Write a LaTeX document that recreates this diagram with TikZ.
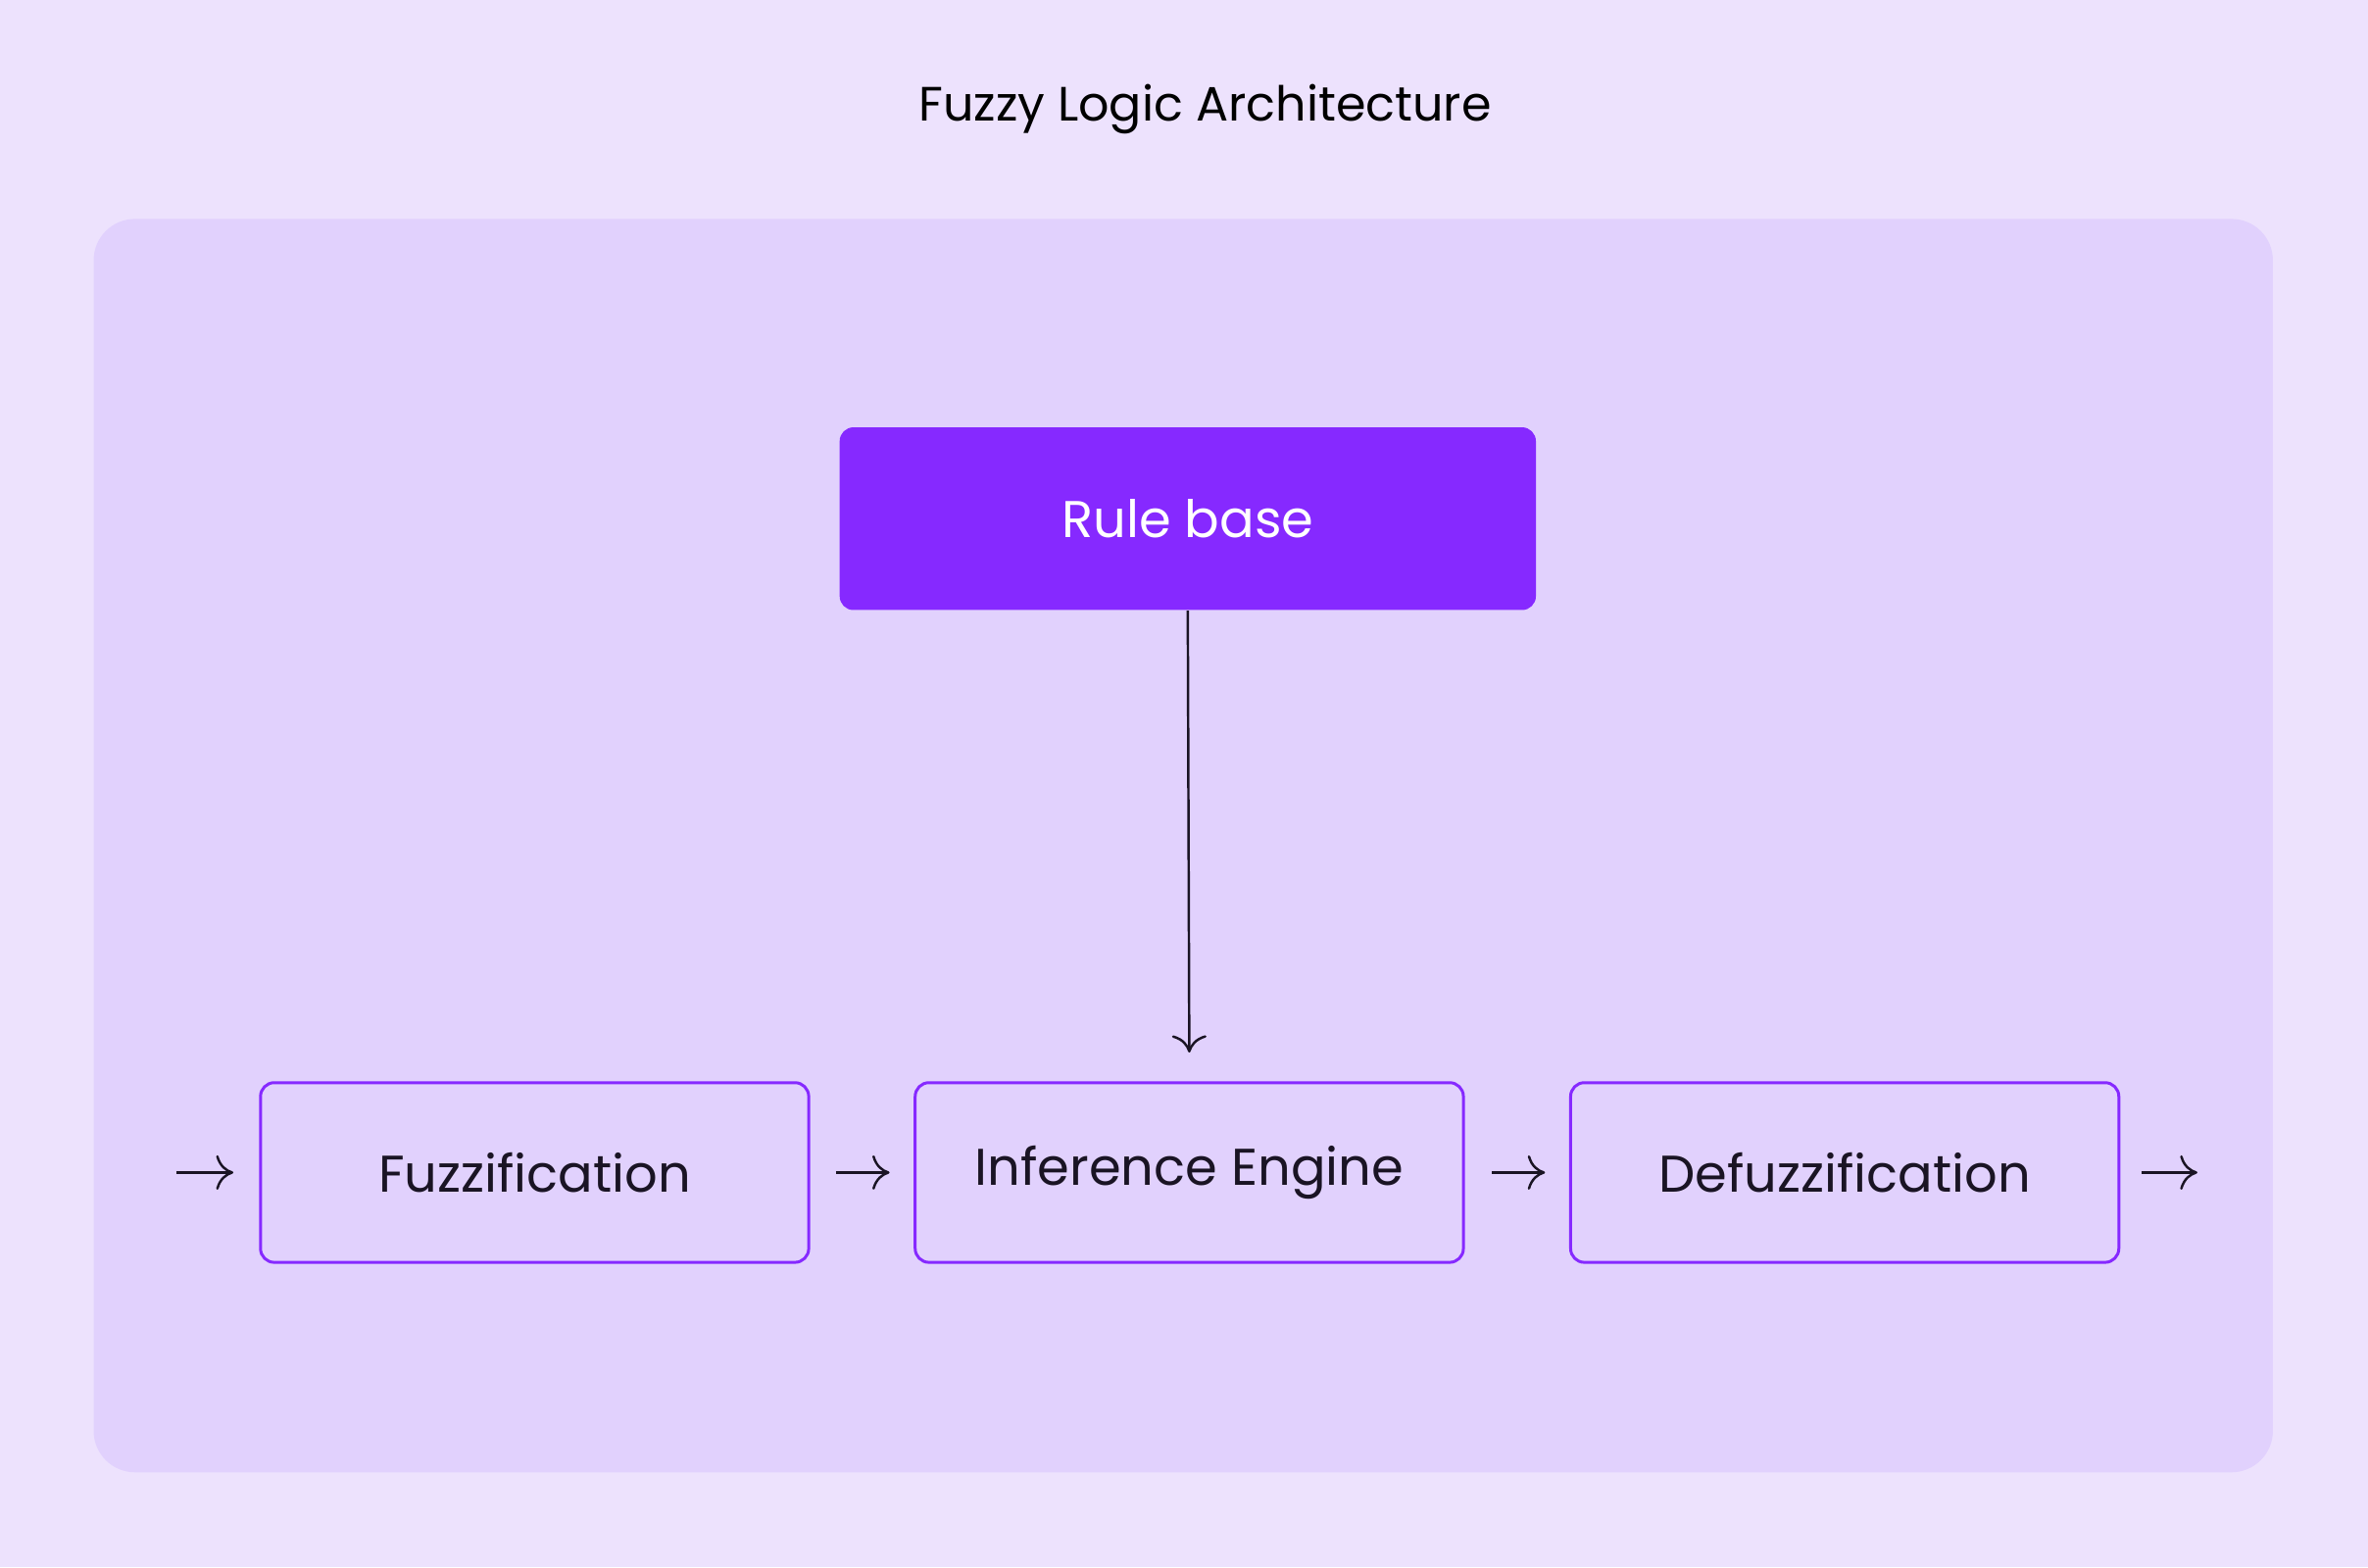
\documentclass[tikz,border=0pt]{standalone}
\usepackage{fontspec}
\setmainfont{Poppins}
\usetikzlibrary{arrows.meta}
\definecolor{bgc}{HTML}{EDE2FD}
\definecolor{panel}{HTML}{E1D1FD}
\definecolor{vio}{HTML}{8629FF}
\definecolor{ink}{HTML}{1A1424}
\begin{document}
\begin{tikzpicture}[x=0.01541cm,y=-0.01541cm,
  box/.style={draw=vio,line width=0.85pt,rounded corners=4pt,minimum width=363*0.01541cm,minimum height=119*0.01541cm,font=\fontsize{15}{18}\selectfont,text=ink},
  arr/.style={draw=ink,line width=0.7pt,-{To[length=5pt,width=10pt]}}]
\useasboundingbox (0,0) rectangle (1568,1038);
\fill[bgc] (0,0) rectangle (1568,1038);
\fill[panel,rounded corners=12pt] (62,145) rectangle (1505,975);
\node[font=\fontsize{14}{17}\selectfont,text=black] (title) at (798,72) {Fuzzy Logic Architecture};
\node[fill=vio,rounded corners=4pt,minimum width=461*0.01541cm,minimum height=121*0.01541cm,text=white,font=\fontsize{15}{18}\selectfont] (rule) at (786.5,343.5) {Rule base};
\node[box] (fuz) at (354,776.5) {Fuzzification};
\node[box] (inf) at (787.5,776.5) {Inference Engine};
\node[box] (def) at (1221.5,776.5) {Defuzzification};
\coordinate (in) at (117,776.5);
\coordinate (out) at (1455,776.5);
\coordinate (outs) at (1418,776.5);
\draw[arr] (in) -- ([xshift=-17*0.01541cm]fuz.west);
\draw[arr] ([xshift=17*0.01541cm]fuz.east) -- ([xshift=-16*0.01541cm]inf.west);
\draw[arr] ([xshift=18*0.01541cm]inf.east) -- ([xshift=-16*0.01541cm]def.west);
\draw[arr] (outs) -- (out);
\draw[arr] (rule.south) -- ([yshift=19*0.01541cm]inf.north);
\end{tikzpicture}
\end{document}
